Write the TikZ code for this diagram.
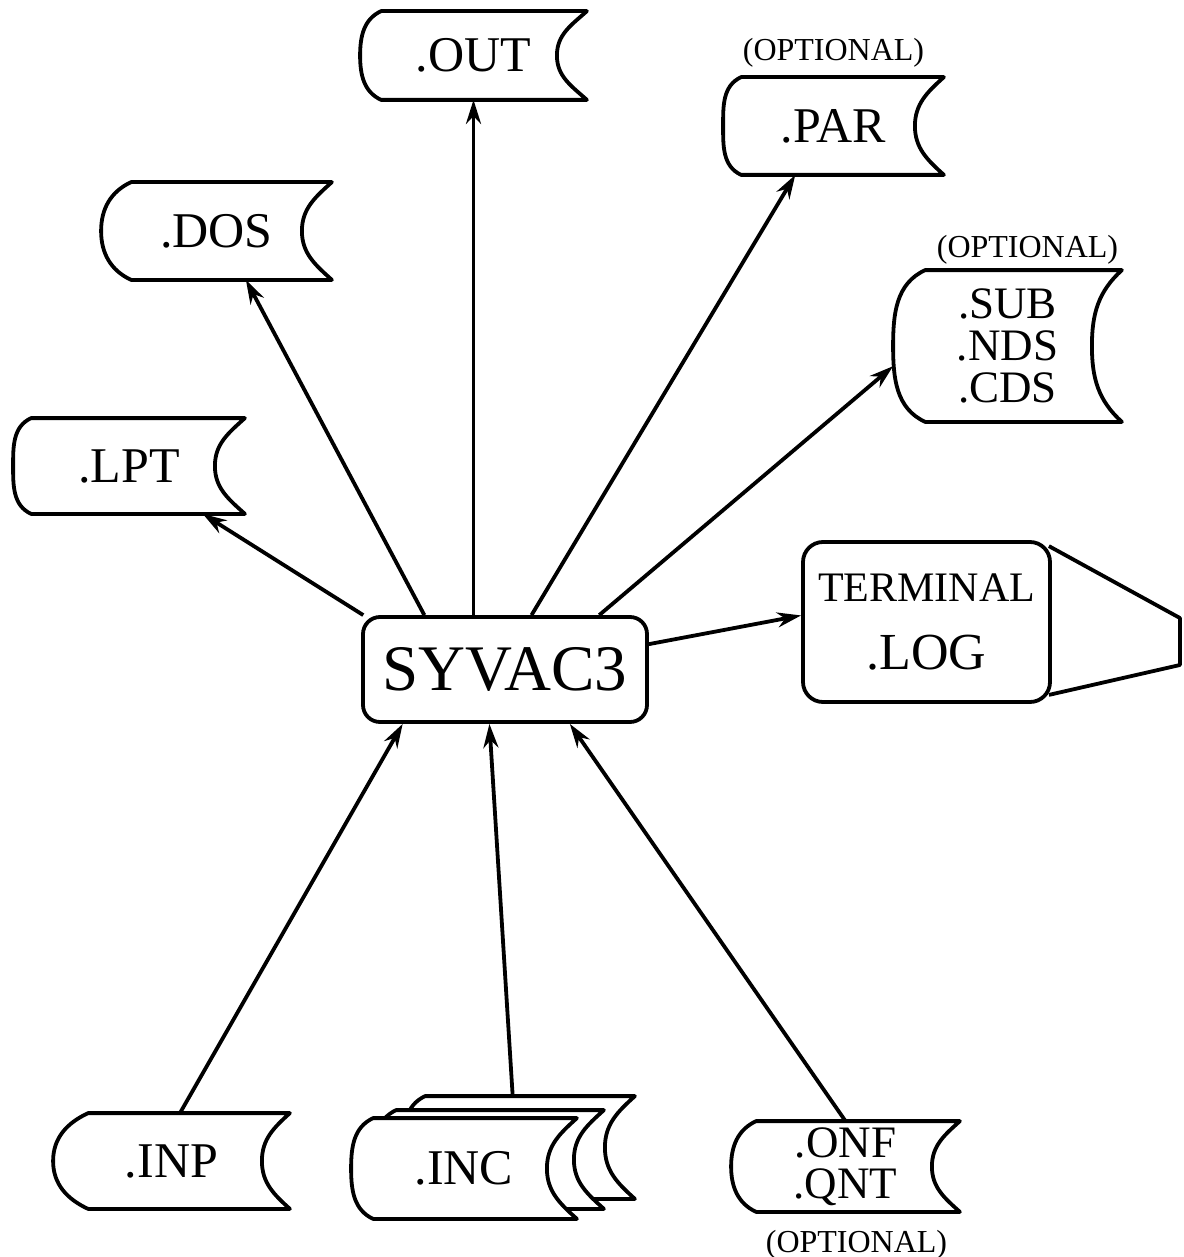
\documentclass[tikz,border=0pt]{standalone}
\usepackage{fontspec}
\setmainfont{Liberation Serif}
\usetikzlibrary{positioning,arrows.meta,calc}

% stored data outline round a node: name, left bulge, right hollow
\newcommand{\filesymbol}[4][]{%
  \draw[#1] (#2.west) to[out=90,in=205] ($(#2.north west)+(#3,0)$) -- (#2.north east)
    to[out=222,in=90] ($(#2.east)+(-#4,0)$) to[out=-90,in=138] (#2.south east)
    -- ($(#2.south west)+(#3,0)$) to[out=155,in=-90] (#2.west) -- cycle;}

\begin{document}
\begin{tikzpicture}[x=0.5pt, y=0.5pt, line width=1.9pt, line join=round,
    datafile/.style={inner sep=0pt, align=center, font=\fontsize{25}{22}\selectfont},
    optlabel/.style={inner sep=0pt, font=\fontsize{16}{16}\selectfont},
    flow/.style={-{Stealth[length=12pt,width=7.5pt]}}]
  \useasboundingbox (0,0) rectangle (1183,-1257);

  % Program
  \node[draw, rounded corners=8.5pt, minimum width=142pt, minimum height=52.5pt,
    font=\fontsize{32.5}{32.5}\selectfont] (syvac) at (505,-669.5) {SYVAC3};

  % Output files
  \node[datafile, minimum width=111.5pt, minimum height=42.5pt] (out) at (473.5,-55.5) {.OUT};
  \filesymbol{out}{21}{30}
  \node[datafile, minimum width=108.5pt, minimum height=47pt] (par) at (833.5,-126) {.PAR};
  \filesymbol{par}{18}{29}
  \node[optlabel, above=4pt of par.north] (paropt) {(OPTIONAL)};
  \node[datafile, minimum width=113.5pt, minimum height=47pt] (dos) at (216.5,-231) {.DOS};
  \filesymbol{dos}{30}{30}
  \node[datafile, minimum width=114pt, minimum height=46pt] (lpt) at (129,-466) {.LPT};
  \filesymbol{lpt}{18}{30}
  \node[datafile, minimum width=112.5pt, minimum height=74pt,
    font=\fontsize{22.5}{21}\selectfont] (sub) at (1007.5,-346) {.SUB\\.NDS\\.CDS};
  \filesymbol{sub}{32}{30}
  \node[optlabel, above=2pt of sub.north, xshift=10pt] (subopt) {(OPTIONAL)};

  % Terminal
  \node[draw, rounded corners=10pt, minimum width=123.5pt, minimum height=80pt, align=center,
    font=\fontsize{26}{34}\selectfont] (term) at (926.5,-622)
    {{\fontsize{21}{34}\selectfont TERMINAL}\\.LOG};
  \draw ($(term.north east)+(-3,-6)$) -- ($(term.east)+(128,4)$)
    -- ($(term.east)+(128,-43)$) -- ($(term.south east)+(-3,9)$);

  % Input files
  \node[datafile, minimum width=116.5pt, minimum height=46pt] (inp) at (171.5,-1161) {.INP};
  \filesymbol{inp}{35}{28}
  \node[inner sep=0pt, minimum width=114pt, minimum height=49.5pt] (incC) at (519,-1147.5) {};
  \filesymbol[fill=white]{incC}{22}{30}
  \node[inner sep=0pt, minimum width=113pt, minimum height=47.5pt] (incB) at (489,-1159.5) {};
  \filesymbol[fill=white]{incB}{22}{30}
  \node[datafile, minimum width=111pt, minimum height=48.5pt] (inc) at (464,-1168.5) {};
  \filesymbol[fill=white]{inc}{22}{30}
  \node[datafile] at (inc) {.INC};
  \node[datafile, minimum width=112.5pt, minimum height=43.5pt,
    font=\fontsize{22.5}{20.5}\selectfont] (onf) at (845.5,-1166.5) {.ONF\\.QNT};
  \filesymbol{onf}{25}{28}
  \node[optlabel, below=8pt of onf.south, xshift=5.5pt] (onfopt) {(OPTIONAL)};

  % Connectors
  \draw[flow] (syvac.north -| out.south) -- (out.south);
  \draw[flow] (syvac.64) -- (par.232);
  \draw[flow] (syvac.30) -- (sub.190);
  \draw[flow] (syvac.10) -- (term.177);
  \draw[flow] (syvac.146) -- (dos.301);
  \draw[flow] (syvac.159) -- (lpt.327);
  \draw[flow] (inp.80) -- (syvac.208);
  \draw[flow] (incC.97) -- (syvac.254);
  \draw[flow] (onf.north) -- (syvac.320);
\end{tikzpicture}
\end{document}
